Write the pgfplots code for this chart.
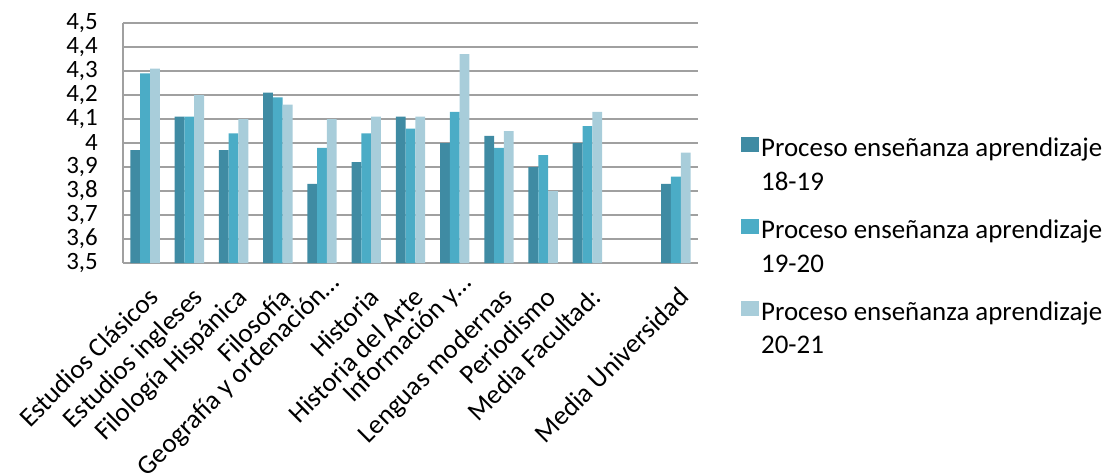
\documentclass[border=0pt]{standalone}
\usepackage{pgfplots}
\pgfplotsset{compat=1.18}
\usepackage{fontspec}
\setmainfont{Carlito}
\definecolor{c1}{HTML}{3F8BA3}
\definecolor{c2}{HTML}{4BACC6}
\definecolor{c3}{HTML}{A8CDDA}
\definecolor{gl}{HTML}{A0A0A0}
\newcommand\yf{\fontsize{25}{28}\selectfont}
\begin{document}
\begin{tikzpicture}
\begin{axis}[
  at={(0bp,0bp)}, anchor=south west,
  scale only axis, width=575bp, height=240bp,
  ymin=3.5, ymax=4.5,
  ytick={3.5,3.6,3.7,3.8,3.9,4.0,4.1,4.2,4.3,4.4,4.5},
  yticklabels={{\yf 3,5},{\yf 3,6},{\yf 3,7},{\yf 3,8},{\yf 3,9},{\yf 4},{\yf 4,1},{\yf 4,2},{\yf 4,3},{\yf 4,4},{\yf 4,5}},
  xmin=-0.5, xmax=12.5, xtick={0,1,2,3,5,6,8,9,10,12},
  xticklabels={Estudios Clásicos,Estudios ingleses,Filología Hispánica,Filosofía,Historia,Historia del Arte,Lenguas modernas,Periodismo,Media Facultad:,Media Universidad},
  extra x ticks={4,7},
  extra x tick labels={Geografía y ordenación…,Información y…},
  extra x tick style={xticklabel style={xshift=12.7bp, yshift=7.8bp}},
  ybar=0pt, bar width=9.8bp,
  ymajorgrids, grid style={gl, line width=1.6bp},
  major tick length=0pt,
  axis lines*=left, axis line style={-, gl, line width=1.6bp},
  yticklabel style={font=\yf, inner sep=0pt, anchor=east, xshift=-25bp},
  xticklabel style={font=\fontsize{27}{30}\selectfont, xshift=1.5bp, yshift=-22.5bp, rotate=45, anchor=north east, inner sep=0pt},
  legend style={at={(1.0748,0.529)}, anchor=north west, draw=none, font=\fontsize{27}{33.7}\selectfont, cells={align=left, anchor=west}, row sep=24bp, inner sep=0pt},
  clip=true,
]
\addplot[fill=c1, draw=none, legend image code/.code={\path (0bp,13bp) rectangle (18bp,28bp);\fill[c1] (0bp,13bp) rectangle (15bp,28bp);}] coordinates {(0,3.97) (1,4.11) (2,3.97) (3,4.21) (4,3.83) (5,3.92) (6,4.11) (7,4.00) (8,4.03) (9,3.90) (10,4.00) (12,3.83)};
\addplot[fill=c2, draw=none, legend image code/.code={\path (0bp,13bp) rectangle (18bp,28bp);\fill[c2] (0bp,13bp) rectangle (15bp,28bp);}] coordinates {(0,4.29) (1,4.11) (2,4.04) (3,4.19) (4,3.98) (5,4.04) (6,4.06) (7,4.13) (8,3.98) (9,3.95) (10,4.07) (12,3.86)};
\addplot[fill=c3, draw=none, legend image code/.code={\path (0bp,13bp) rectangle (18bp,28bp);\fill[c3] (0bp,13bp) rectangle (15bp,28bp);}] coordinates {(0,4.31) (1,4.20) (2,4.10) (3,4.16) (4,4.10) (5,4.11) (6,4.11) (7,4.37) (8,4.05) (9,3.80) (10,4.13) (12,3.96)};
\legend{Proceso enseñanza aprendizaje\\18-19, Proceso enseñanza aprendizaje\\19-20, Proceso enseñanza aprendizaje\\20-21}
\end{axis}
\pgfresetboundingbox
\path (-123bp,-210bp) rectangle (984bp,263bp);
\end{tikzpicture}
\end{document}
